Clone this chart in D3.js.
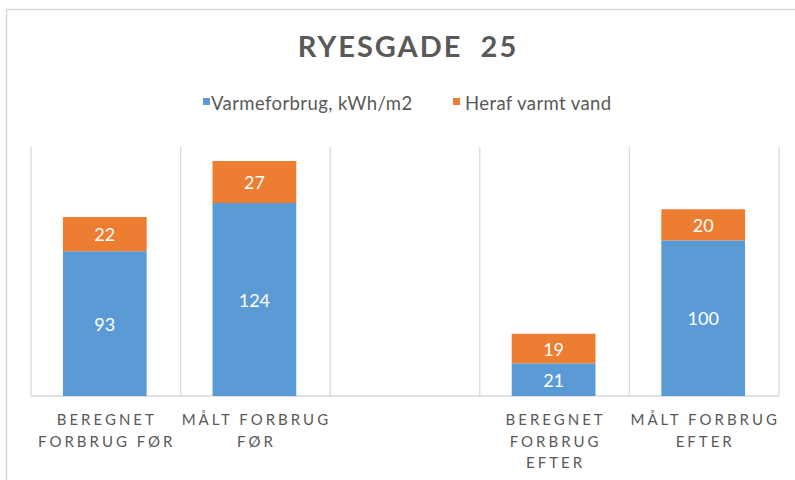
<!DOCTYPE html>
<html>
<head>
<meta charset="utf-8">
<script src="https://cdn.jsdelivr.net/npm/d3@7"></script>
<style>
  html, body { margin: 0; padding: 0; background: #fff; }
  svg { display: block; }
  text { font-family: Lato, "Open Sans", sans-serif; }
</style>
</head>
<body>
<svg id="chart" width="795" height="480"></svg>
<script>
// ---- data ----
const title = "RYESGADE  25";
const seriesNames = ["Varmeforbrug, kWh/m2", "Heraf varmt vand"];
const categories = ["BEREGNET FORBRUG FØR", "MÅLT FORBRUG FØR", "", "BEREGNET FORBRUG EFTER", "MÅLT FORBRUG EFTER"];
const tickLines = [["BEREGNET", "FORBRUG FØR"], ["MÅLT FORBRUG", "FØR"], [], ["BEREGNET", "FORBRUG", "EFTER"], ["MÅLT FORBRUG", "EFTER"]];
const varme = [93, 124, null, 21, 100];
const varmtVand = [22, 27, null, 19, 20];
const colors = ["#5B9BD5", "#ED7D31"];
const yMax = 160;

// ---- layout ----
const W = 795, H = 480;
const plot = { left: 31, right: 779, top: 147, bottom: 396 };
const svg = d3.select("#chart");

// chart frame (partially outside the viewport)
svg.append("rect")
  .attr("x", 6.5).attr("y", 9.5)
  .attr("width", W + 20).attr("height", H + 20)
  .attr("fill", "none").attr("stroke", "#d9d9d9").attr("stroke-width", 1.5);

const x = d3.scaleBand().domain(d3.range(categories.length))
  .range([plot.left, plot.right]).paddingInner(0).paddingOuter(0);
const y = d3.scaleLinear().domain([0, yMax]).range([plot.bottom, plot.top]);

// vertical gridlines at category boundaries
const bounds = d3.range(categories.length + 1).map(i => i < categories.length ? x(i) : x(categories.length - 1) + x.bandwidth());
svg.append("g").selectAll("line").data(bounds).join("line")
  .attr("x1", d => d).attr("x2", d => d)
  .attr("y1", y(yMax)).attr("y2", y(0))
  .attr("stroke", "#d9d9d9").attr("stroke-width", 1.3);

// baseline
svg.append("line")
  .attr("x1", plot.left).attr("x2", plot.right)
  .attr("y1", y(0)).attr("y2", y(0))
  .attr("stroke", "#d9d9d9").attr("stroke-width", 1.3);

// stacked data
const rows = categories.map((c, i) => ({ i, varme: varme[i] || 0, vand: varmtVand[i] || 0, has: varme[i] != null }));
const stack = d3.stack().keys(["varme", "vand"])(rows);
const barW = x.bandwidth() * 0.56;

const layers = svg.append("g").selectAll("g").data(stack).join("g")
  .attr("fill", (d, k) => colors[k]);
layers.selectAll("rect").data(d => d.filter(s => s.data.has)).join("rect")
  .attr("x", d => x(d.data.i) + (x.bandwidth() - barW) / 2 - 1)
  .attr("width", barW)
  .attr("y", d => y(d[1]))
  .attr("height", d => y(d[0]) - y(d[1]));

// data labels
stack.forEach((layer, k) => {
  svg.append("g").selectAll("text").data(layer.filter(s => s.data.has)).join("text")
    .attr("x", d => x(d.data.i) + x.bandwidth() / 2 - 1)
    .attr("y", d => (y(d[0]) + y(d[1])) / 2 + 7)
    .attr("text-anchor", "middle")
    .attr("fill", "#fff")
    .attr("font-size", 18)
    .text(d => d[1] - d[0]);
});

// category labels
const xl = svg.append("g");
tickLines.forEach((lines, i) => {
  lines.forEach((ln, j) => {
    xl.append("text")
      .attr("x", x(i) + x.bandwidth() / 2 + 1)
      .attr("y", 425 + j * 21.5)
      .attr("text-anchor", "middle")
      .attr("fill", "#595959")
      .attr("font-size", 15)
      .attr("letter-spacing", "3px")
      .text(ln);
  });
});

// title
svg.append("text")
  .attr("x", 408).attr("y", 56.5)
  .attr("text-anchor", "middle")
  .attr("fill", "#595959")
  .attr("font-size", 29).attr("font-weight", "bold")
  .attr("letter-spacing", "2px")
  .style("white-space", "pre")
  .text(title);

// legend
const legendPos = [{ sx: 203, tx: 211 }, { sx: 453, tx: 465 }];
const lg = svg.append("g");
seriesNames.forEach((name, k) => {
  lg.append("rect").attr("x", legendPos[k].sx).attr("y", 98).attr("width", 7).attr("height", 7).attr("fill", colors[k]);
  lg.append("text").attr("x", legendPos[k].tx).attr("y", 110)
    .attr("fill", "#595959").attr("font-size", 18.5).attr("letter-spacing", "0.4px").text(name);
});
</script>
</body>
</html>
